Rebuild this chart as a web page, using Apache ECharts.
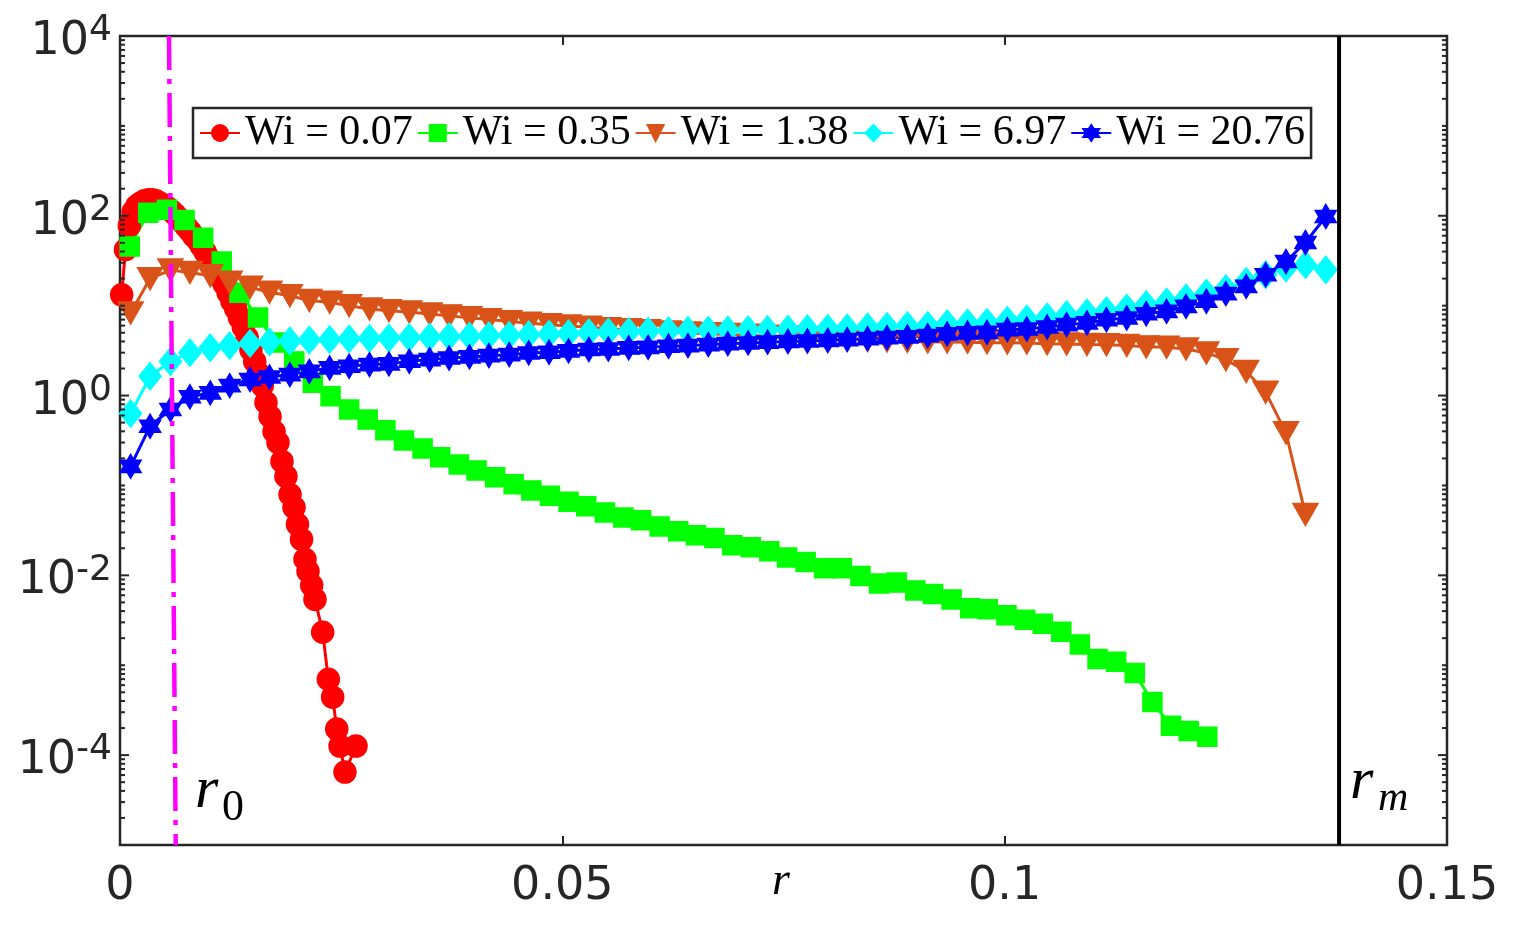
<!DOCTYPE html>
<html>
<head>
<meta charset="utf-8">
<script src="https://cdn.jsdelivr.net/npm/echarts@6.0.0/dist/echarts.min.js"></script>
<style>
html, body { margin: 0; padding: 0; background: #fff; }
#main { width: 1516px; height: 926px; }
</style>
</head>
<body>
<div id="main"></div>
<script>
// bin centres shared by Wi = 1.38, 6.97, 20.76
var rGrid = [0.0012, 0.0034, 0.0057, 0.0079, 0.0102, 0.0124, 0.0147, 0.0169, 0.0192, 0.0214,
  0.0237, 0.0259, 0.0282, 0.0304, 0.0327, 0.0350, 0.0372, 0.0395, 0.0417, 0.0440,
  0.0462, 0.0485, 0.0507, 0.0530, 0.0552, 0.0575, 0.0597, 0.0620, 0.0642, 0.0665,
  0.0687, 0.0710, 0.0732, 0.0755, 0.0777, 0.0800, 0.0822, 0.0845, 0.0867, 0.0890,
  0.0913, 0.0935, 0.0958, 0.0980, 0.1003, 0.1025, 0.1048, 0.1070, 0.1093, 0.1115,
  0.1138, 0.1160, 0.1183, 0.1205, 0.1228, 0.1250, 0.1273, 0.1295, 0.1318, 0.1340, 0.1363];

var rRed = [0.00019, 0.00062, 0.00105, 0.00148, 0.00191, 0.00234, 0.00277, 0.00320, 0.00363, 0.00406,
  0.00449, 0.00492, 0.00535, 0.00578, 0.00621, 0.00664, 0.00706, 0.00749, 0.00792, 0.00835,
  0.00878, 0.00921, 0.00964, 0.01007, 0.01050, 0.01093, 0.01136, 0.01179, 0.01222, 0.01265,
  0.01308, 0.01351, 0.01394, 0.01437, 0.01480, 0.01523, 0.01566, 0.01609, 0.01650, 0.01696,
  0.01741, 0.01786, 0.01831, 0.01876, 0.01922, 0.01967, 0.02006, 0.02052, 0.02091, 0.02125,
  0.02167, 0.02204, 0.02291, 0.02355, 0.02404, 0.02450, 0.02487, 0.02543, 0.02668];
var pWi007 = [13.2, 41.9, 77.4, 111, 129, 139, 147, 151, 151, 147,
  139, 132, 124, 114, 104, 93.8, 84.7, 75.5, 67.3, 59.2,
  53.4, 45.8, 39.3, 33.3, 28.2, 23.9, 20.5, 17.3, 13.9, 11.2,
  9.26, 7.36, 5.77, 4.41, 3.24, 2.39, 1.76, 1.29, 0.836, 0.585,
  0.398, 0.300, 0.185, 0.126, 0.0794, 0.0570, 0.0369, 0.0251, 0.0151, 0.0111,
  0.00774, 0.0054, 0.00233, 0.000699, 0.000441, 0.000195, 0.000126, 0.0000647, 0.000126];

var rGreen = [0.0011, 0.0032, 0.0053, 0.0073, 0.0094, 0.0115, 0.0135, 0.0156, 0.0176, 0.0197,
  0.0218, 0.0238, 0.0259, 0.0280, 0.0300, 0.0321, 0.0342, 0.0362, 0.0383, 0.0403,
  0.0424, 0.0445, 0.0465, 0.0486, 0.0507, 0.0527, 0.0548, 0.0569, 0.0589, 0.0610,
  0.0631, 0.0651, 0.0672, 0.0692, 0.0713, 0.0734, 0.0754, 0.0775, 0.0796, 0.0816,
  0.0837, 0.0858, 0.0878, 0.0899, 0.0919, 0.0940, 0.0961, 0.0981, 0.1002, 0.1023,
  0.1043, 0.1064, 0.1085, 0.1105, 0.1126, 0.1147, 0.1167, 0.1188, 0.1208, 0.1229];
var pWi035 = [45.6, 108, 117, 90, 57, 31, 13.9, 7.4, 3.9, 2.4,
  1.39, 0.98, 0.70, 0.54, 0.41, 0.316, 0.258, 0.206, 0.171, 0.147,
  0.123, 0.103, 0.088, 0.077, 0.066, 0.0585, 0.050, 0.044, 0.041, 0.035,
  0.031, 0.028, 0.026, 0.0216, 0.0205, 0.0185, 0.0158, 0.0141, 0.0120, 0.0120,
  0.0098, 0.0081, 0.0083, 0.0068, 0.0062, 0.0054, 0.0043, 0.0042, 0.0036, 0.0032,
  0.0029, 0.00235, 0.0017, 0.00117, 0.00109, 0.00082, 0.00039, 0.000212, 0.000186, 0.00016];

var pWi138 = [8.3, 20, 24.9, 23.4, 21.5, 18.2, 16.0, 14.1, 12.9, 11.4,
  10.9, 10.0, 9.2, 8.8, 8.5, 8.1, 7.7, 7.35, 7.0, 6.65,
  6.4, 6.15, 5.95, 5.75, 5.55, 5.4, 5.25, 5.1, 4.98, 4.88,
  4.78, 4.68, 4.58, 4.48, 4.38, 4.28, 4.19, 4.1, 4.05, 4.0,
  3.96, 3.94, 3.92, 3.88, 3.86, 3.84, 3.78, 3.75, 3.7, 3.68,
  3.6, 3.48, 3.45, 3.30, 2.98, 2.51, 1.86, 1.09, 0.385, 0.0476];

var pWi697 = [0.63, 1.64, 2.39, 3.0, 3.4, 3.6, 3.8, 3.95, 4.05, 4.15,
  4.2, 4.27, 4.32, 4.37, 4.42, 4.47, 4.53, 4.58, 4.64, 4.68,
  4.76, 4.83, 4.89, 5.0, 5.08, 5.14, 5.2, 5.27, 5.3, 5.34,
  5.37, 5.41, 5.43, 5.48, 5.55, 5.6, 5.65, 5.8, 5.89, 6.0,
  6.04, 6.31, 6.43, 6.52, 6.87, 7.12, 7.49, 7.94, 8.3, 8.8,
  9.42, 10.3, 11.0, 12.2, 13.8, 15.5, 18.6, 22.1, 26.2, 28.6, 25.1];

var pWi2076 = [0.163, 0.456, 0.70, 0.97, 1.07, 1.29, 1.51, 1.61, 1.71, 1.86,
  2.03, 2.12, 2.21, 2.25, 2.41, 2.51, 2.62, 2.69, 2.78, 2.85,
  2.98, 3.03, 3.14, 3.25, 3.30, 3.39, 3.44, 3.53, 3.59, 3.69,
  3.78, 3.85, 3.93, 4.0, 4.05, 4.1, 4.19, 4.30, 4.41, 4.49,
  4.64, 4.85, 4.98, 5.05, 5.41, 5.51, 5.8, 6.15, 6.43, 6.98,
  7.29, 8.14, 8.65, 9.82, 11.2, 13.6, 16.4, 22.1, 31.0, 50.5, 98];

var seriesNames = ['Wi = 0.07', 'Wi = 0.35', 'Wi = 1.38', 'Wi = 6.97', 'Wi = 20.76'];

// reference lines r0 and rm
var r0Line = [[0.00554, 1e4], [0.0063, 1e-5]];
var rmLine = [[0.1378, 1e-5], [0.1378, 1e4]];

var xTicks = [0, 0.05, 0.1, 0.15];
var yMajorTicks = [1e-4, 1e-2, 1, 1e2, 1e4];

// minor log ticks 2..9 x 10^k plus the unlabelled odd decades
var yTicks = [];
for (var e = -5; e <= 3; e++) {
  for (var m = 1; m <= 9; m++) {
    var v = m * Math.pow(10, e);
    if (m === 1 && e === -5) continue;
    var major = (m === 1 && e % 2 === 0) ? 1 : 0;
    yTicks.push([0, v, major]);
  }
}
yTicks.push([0, 1e4, 1]);

var AXIS = '#262626';
var hexagram = 'path://M0,-100L28.87,-50L86.6,-50L57.7,0L86.6,50L28.87,50L0,100L-28.87,50L-86.6,50L-57.7,0L-86.6,-50L-28.87,-50Z';

function pairs(xs, ys) {
  return ys.map(function (y, i) { return [xs[i], y]; });
}

function curve(name, xs, ys, color, symbol, size, rotate) {
  return {
    name: name,
    type: 'line',
    data: pairs(xs, ys),
    symbol: symbol,
    symbolSize: size,
    symbolRotate: rotate || 0,
    lineStyle: { color: color, width: 3 },
    itemStyle: { color: color, borderColor: color, borderWidth: 1.5 },
    emphasis: { disabled: true },
    z: 3
  };
}

var chart = echarts.init(document.getElementById('main'));

chart.setOption({
  animation: false,
  backgroundColor: '#fff',
  grid: {
    left: 120, top: 36, right: 69, bottom: 81,
    outerBoundsMode: 'none', containLabel: false,
    show: true, borderColor: AXIS, borderWidth: 2.5, backgroundColor: 'transparent'
  },
  legend: {
    data: seriesNames,
    left: 193, top: 108,
    itemWidth: 40, itemHeight: 20, itemGap: 4,
    padding: [4, 6],
    borderColor: AXIS, borderWidth: 2.5, backgroundColor: '#fff',
    selectedMode: false,
    textStyle: { fontFamily: 'Liberation Serif', fontSize: 42, color: '#000' }
  },
  xAxis: [{
    type: 'value', min: 0, max: 0.15, interval: 0.05,
    axisLine: { show: false },
    axisTick: { show: true, inside: true, length: 9, lineStyle: { color: AXIS, width: 2 } },
    splitLine: { show: false },
    axisLabel: {
      margin: 19, fontFamily: 'DejaVu Sans', fontSize: 46, color: AXIS,
      formatter: function (v) { return xTicks.indexOf(v) >= 0 ? String(v) : ''; }
    }
  }, {
    type: 'value', min: 0, max: 0.15, interval: 0.05, position: 'top',
    axisLine: { show: false },
    axisTick: { show: true, inside: true, length: 9, lineStyle: { color: AXIS, width: 2 } },
    splitLine: { show: false },
    axisLabel: { show: false }
  }],
  yAxis: {
    type: 'log', logBase: 10, min: 1e-5, max: 1e4,
    axisLine: { show: false },
    axisTick: { show: false },
    splitLine: { show: false },
    axisLabel: {
      margin: 8, color: AXIS,
      formatter: function (v) {
        var p = Math.round(Math.log10(v));
        var hit = yMajorTicks.some(function (t) { return Math.abs(Math.log10(t) - p) < 1e-6; });
        return hit ? '{b|10}{s|' + p + '}' : '';
      },
      rich: {
        b: { fontFamily: 'DejaVu Sans', fontSize: 46, lineHeight: 46, color: AXIS, padding: [12, 0, 0, 0] },
        s: { fontFamily: 'DejaVu Sans', fontSize: 36, lineHeight: 36, color: AXIS, verticalAlign: 'top' }
      }
    }
  },
  series: [
    curve(seriesNames[0], rRed, pWi007, '#FF0000', 'circle', 22),
    curve(seriesNames[1], rGreen, pWi035, '#00FF00', 'rect', 19),
    curve(seriesNames[2], rGrid, pWi138, '#D95319', 'triangle', [25, 22], 180),
    curve(seriesNames[3], rGrid, pWi697, '#00FFFF', 'diamond', [22, 27]),
    curve(seriesNames[4], rGrid, pWi2076, '#0000FF', hexagram, [21, 24]),
    {
      type: 'line', data: r0Line, symbol: 'none', z: 6, silent: true,
      lineStyle: { color: '#FF00FF', width: 4.5, type: [34, 9, 5, 9] }
    },
    {
      type: 'line', data: rmLine, symbol: 'none', z: 6, silent: true,
      lineStyle: { color: '#000', width: 4 }
    },
    {
      type: 'custom', coordinateSystem: 'cartesian2d', silent: true, z: 7,
      data: yTicks,
      renderItem: function (params, api) {
        var cs = params.coordSys;
        var y = api.coord([0, api.value(1)])[1];
        var len = api.value(2) ? 9 : 5;
        return {
          type: 'group',
          children: [
            { type: 'line', shape: { x1: cs.x, y1: y, x2: cs.x + len, y2: y }, style: { stroke: AXIS, lineWidth: 2 } },
            { type: 'line', shape: { x1: cs.x + cs.width, y1: y, x2: cs.x + cs.width - len, y2: y }, style: { stroke: AXIS, lineWidth: 2 } }
          ]
        };
      }
    }
  ],
  graphic: [
    { type: 'text', x: 195, y: 791, z: 10, style: { text: 'r', fontFamily: 'Liberation Serif', fontStyle: 'italic', fontSize: 60, fill: '#000', align: 'left', verticalAlign: 'middle' } },
    { type: 'text', x: 222, y: 808, z: 10, style: { text: '0', fontFamily: 'Liberation Serif', fontSize: 44, fill: '#000', align: 'left', verticalAlign: 'middle' } },
    { type: 'text', x: 1350, y: 782, z: 10, style: { text: 'r', fontFamily: 'Liberation Serif', fontStyle: 'italic', fontSize: 60, fill: '#000', align: 'left', verticalAlign: 'middle' } },
    { type: 'text', x: 1378, y: 799, z: 10, style: { text: 'm', fontFamily: 'Liberation Serif', fontStyle: 'italic', fontSize: 42, fill: '#000', align: 'left', verticalAlign: 'middle' } },
    { type: 'text', x: 781, y: 882, z: 10, style: { text: 'r', fontFamily: 'Liberation Serif', fontStyle: 'italic', fontSize: 46, fill: '#000', align: 'center', verticalAlign: 'middle' } }
  ]
});
</script>
</body>
</html>
